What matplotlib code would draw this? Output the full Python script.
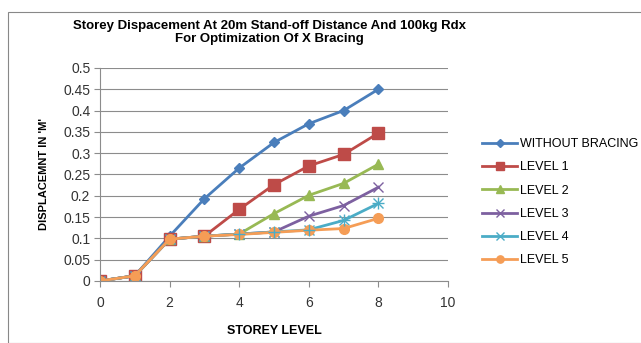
import matplotlib
matplotlib.use("Agg")
import matplotlib.pyplot as plt
from matplotlib.patches import Rectangle

plt.rcParams['font.family'] = ['Liberation Sans', 'DejaVu Sans']

storey = [0, 1, 2, 3, 4, 5, 6, 7, 8]
without_bracing = [0, 0.012, 0.105, 0.193, 0.265, 0.325, 0.369, 0.400, 0.450]
level1 = [0, 0.012, 0.098, 0.105, 0.168, 0.226, 0.270, 0.297, 0.347]
level2 = [0, 0.012, 0.098, 0.105, 0.110, 0.158, 0.201, 0.229, 0.274]
level3 = [0, 0.012, 0.098, 0.105, 0.110, 0.115, 0.152, 0.177, 0.220]
level4 = [0, 0.012, 0.098, 0.105, 0.110, 0.115, 0.120, 0.142, 0.182]
level5 = [0, 0.012, 0.098, 0.105, 0.109, 0.114, 0.119, 0.123, 0.147]

names = ["WITHOUT BRACING", "LEVEL 1", "LEVEL 2", "LEVEL 3", "LEVEL 4", "LEVEL 5"]
colors = ["#4a7ebb", "#be4b48", "#98b954", "#7d60a0", "#4bacc6", "#f59d56"]
markers = ["D", "s", "^", "x", "x", "o"]
msizes = [5, 8, 7, 7, 7, 7]

fig = plt.figure(figsize=(6.41, 3.43), dpi=100)
fig.patches.append(Rectangle((0.013, 0.0), 0.99, 0.965, transform=fig.transFigure,
                             fill=False, edgecolor="#888888", linewidth=0.8))
ax = fig.add_axes([0.156, 0.181, 0.543, 0.621])

series = [without_bracing, level1, level2, level3, level4, level5]
for vals, name, c, m, ms in zip(series, names, colors, markers, msizes):
    ax.plot(storey, vals, color=c, marker=m, markersize=ms, linewidth=2, label=name)
# level 4 marker is a star: add a plus over the x
ax.plot(storey[4:], level4[4:], color=colors[4], marker="+", markersize=8,
        linestyle="none")

ax.set_xlim(0, 10)
ax.set_ylim(0, 0.5)
ax.set_xticks(range(0, 11, 2))
ax.set_yticks([0, 0.05, 0.1, 0.15, 0.2, 0.25, 0.3, 0.35, 0.4, 0.45, 0.5])
ax.set_yticklabels(["0", "0.05", "0.1", "0.15", "0.2", "0.25", "0.3", "0.35",
                    "0.4", "0.45", "0.5"])
ax.yaxis.grid(True, color="#8c8c8c", linewidth=0.8)
ax.set_axisbelow(True)
for s in ["top", "right"]:
    ax.spines[s].set_visible(False)
ax.spines["left"].set_color("#8c8c8c")
ax.spines["bottom"].set_color("#8c8c8c")
ax.tick_params(axis="y", length=4, color="#8c8c8c", labelsize=10, pad=3,
               labelcolor="#333333")
ax.tick_params(axis="x", length=4, color="#8c8c8c", labelsize=10, pad=7,
               labelcolor="#333333")

ax.set_xlabel("STOREY LEVEL", fontsize=9, fontweight="bold", labelpad=11)
ax.set_ylabel("DISPLACEMNT IN 'M'", fontsize=8, fontweight="bold", labelpad=10)

fig.text(0.421, 0.905, "Storey Dispacement At 20m Stand-off Distance And 100kg Rdx\nFor Optimization Of X Bracing",
         ha="center", va="center", fontsize=9.5, fontweight="bold", linespacing=1.15)

fig.legend(loc="center left", bbox_to_anchor=(0.735, 0.41), frameon=False,
           fontsize=9, labelspacing=0.9, handlelength=2.8, handletextpad=0.2,
           markerscale=0.75)

fig.savefig("out.png", dpi=100)
